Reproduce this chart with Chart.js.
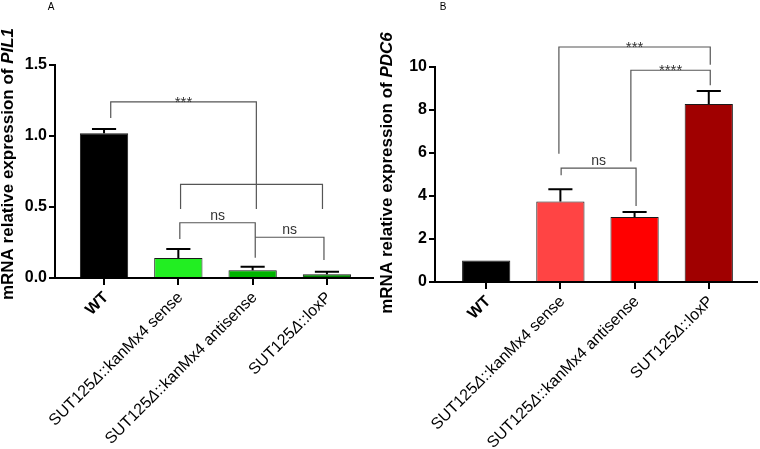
<!DOCTYPE html>
<html>
<head>
<meta charset="utf-8">
<script src="https://cdn.jsdelivr.net/npm/chart.js@4/dist/chart.umd.min.js"></script>
<style>
  body { margin: 0; background: #fff; }
  .panel { position: absolute; top: 0; width: 380px; height: 449px; }
</style>
</head>
<body>
<div class="panel" style="left:0"><canvas id="chartA"></canvas></div>
<div class="panel" style="left:380px"><canvas id="chartB"></canvas></div>
<script>
const strains = ["WT", "SUT125\u0394::kanMx4 sense", "SUT125\u0394::kanMx4 antisense", "SUT125\u0394::loxP"];

const pil1Mean = [1.02, 0.14, 0.055, 0.027];
const pil1Sem = [0.03, 0.065, 0.025, 0.017];
const pil1Ticks = [0, 0.5, 1.0, 1.5];

const pdc6Mean = [1.0, 3.75, 3.02, 8.28];
const pdc6Sem = [0, 0.56, 0.24, 0.6];
const pdc6Ticks = [0, 2, 4, 6, 8, 10];

// significance brackets, in data units (x = strain index, y = expression)
const pil1Brackets = [
  { x1: 0.09, x2: 2.05, y: 1.24, drop1: 1.127, drop2: 0.486, label: "***" },
  { x1: 1.03, x2: 2.94, y: 0.66, drop1: 0.486, drop2: 0.486, label: "" },
  { x1: 1.02, x2: 2.035, y: 0.389, drop1: 0.275, drop2: 0.143, label: "ns" },
  { x1: 2.035, x2: 2.96, y: 0.287, drop1: 0.287, drop2: 0.127, label: "ns" }
];
const pdc6Brackets = [
  { x1: 0.98, x2: 3.02, y: 10.93, drop1: 5.97, drop2: 10.11, label: "***" },
  { x1: 1.95, x2: 3.02, y: 9.85, drop1: 5.61, drop2: 9.15, label: "****" },
  { x1: 1.01, x2: 2.02, y: 5.30, drop1: 4.96, drop2: 3.53, label: "ns" }
];

const FONT = "'Liberation Sans', Arial, sans-serif";

const errorBars = {
  id: "errorBars",
  afterDatasetsDraw(chart, args, opts) {
    const ctx = chart.ctx;
    const y = chart.scales.y;
    const meta = chart.getDatasetMeta(0);
    ctx.save();
    ctx.strokeStyle = "#000";
    ctx.lineWidth = 2;
    meta.data.forEach((bar, i) => {
      const sem = opts.sem[i];
      if (!sem) return;
      const top = y.getPixelForValue(opts.mean[i] + sem);
      const half = bar.width / 4;
      ctx.beginPath();
      ctx.moveTo(bar.x, bar.y);
      ctx.lineTo(bar.x, top);
      ctx.moveTo(bar.x - half, top);
      ctx.lineTo(bar.x + half, top);
      ctx.stroke();
    });
    ctx.restore();
  }
};

const brackets = {
  id: "brackets",
  afterDraw(chart, args, opts) {
    const ctx = chart.ctx;
    const xs = chart.scales.x, ys = chart.scales.y;
    ctx.save();
    ctx.strokeStyle = "#555";
    ctx.lineWidth = 1.2;
    ctx.fillStyle = "#333";
    ctx.textAlign = "center";
    ctx.textBaseline = "alphabetic";
    opts.list.forEach(b => {
      const x1 = xs.getPixelForValue(b.x1), x2 = xs.getPixelForValue(b.x2);
      const y = ys.getPixelForValue(b.y);
      ctx.beginPath();
      ctx.moveTo(x1, ys.getPixelForValue(b.drop1));
      ctx.lineTo(x1, y);
      ctx.lineTo(x2, y);
      ctx.lineTo(x2, ys.getPixelForValue(b.drop2));
      ctx.stroke();
      if (b.label) {
        if (b.label[0] === "*") {
          ctx.font = "15px " + FONT;
          ctx.fillText(b.label, (x1 + x2) / 2, y + 5);
        } else {
          ctx.font = "14px " + FONT;
          ctx.fillText(b.label, (x1 + x2) / 2, y - 3);
        }
      }
    });
    ctx.restore();
  }
};

// strain names under the x axis: upright text, italic delta, WT in bold
const strainLabels = {
  id: "strainLabels",
  afterDraw(chart) {
    const ctx = chart.ctx;
    const xs = chart.scales.x;
    const axisY = chart.chartArea.bottom;
    ctx.save();
    ctx.fillStyle = "#000";
    ctx.textBaseline = "middle";
    ctx.textAlign = "left";
    strains.forEach((name, i) => {
      let parts;
      if (i === 0) {
        parts = [[name, "bold 16px " + FONT]];
      } else {
        const k = name.indexOf("\u0394");
        parts = [
          [name.slice(0, k), "16px " + FONT],
          ["\u0394", "italic 16px " + FONT],
          [name.slice(k + 1), "16px " + FONT]
        ];
      }
      let total = 0;
      parts.forEach(p => { ctx.font = p[1]; p.push(ctx.measureText(p[0]).width); total += p[2]; });
      ctx.save();
      ctx.translate(xs.getPixelForValue(i) + 2, axisY + 17);
      ctx.rotate(-Math.PI / 4);
      let x = -total;
      parts.forEach(p => { ctx.font = p[1]; ctx.fillText(p[0], x, 0); x += p[2]; });
      ctx.restore();
    });
    ctx.restore();
  }
};

const titles = {
  id: "titles",
  afterDraw(chart, args, opts) {
    const ctx = chart.ctx;
    ctx.save();
    ctx.fillStyle = "#000";
    ctx.font = "10px " + FONT;
    ctx.textAlign = "center";
    ctx.textBaseline = "middle";
    ctx.fillText(opts.letter, opts.letterX, 7);

    const plain = "mRNA relative expression of ";
    const fPlain = "bold 17px " + FONT;
    const fGene = "italic bold 17px " + FONT;
    ctx.font = fPlain;
    const w1 = ctx.measureText(plain).width;
    ctx.font = fGene;
    const w2 = ctx.measureText(opts.gene).width;
    ctx.translate(opts.titleX, opts.titleY);
    ctx.rotate(-Math.PI / 2);
    ctx.textAlign = "left";
    const start = -(w1 + w2) / 2;
    ctx.font = fPlain;
    ctx.fillText(plain, start, 0);
    ctx.font = fGene;
    ctx.fillText(opts.gene, start + w1, 0);
    ctx.restore();
  }
};

function makeChart(id, cfg) {
  const ctx = document.getElementById(id).getContext("2d");
  return new Chart(ctx, {
    type: "bar",
    data: {
      datasets: [{
        data: cfg.mean.map((v, i) => ({ x: i, y: v })),
        backgroundColor: cfg.colors,
        borderColor: "#1a1a1a",
        borderWidth: 1,
        barPercentage: 0.65,
        categoryPercentage: 1
      }]
    },
    options: {
      responsive: false,
      animation: false,
      layout: { padding: { top: cfg.top, right: cfg.right, left: 0, bottom: 0 } },
      plugins: {
        legend: { display: false },
        tooltip: { enabled: false },
        errorBars: { mean: cfg.mean, sem: cfg.sem },
        brackets: { list: cfg.brackets },
        titles: cfg.titles
      },
      scales: {
        x: {
          type: "linear",
          offset: false,
          min: cfg.xmin,
          max: cfg.xmax,
          afterBuildTicks: s => { s.ticks = strains.map((_, i) => ({ value: i })); },
          afterFit: s => { s.height = cfg.xHeight; },
          grid: { drawOnChartArea: false, offset: false, color: "#000", lineWidth: 2, tickLength: 7 },
          border: { color: "#000", width: 2 },
          ticks: { display: false }
        },
        y: {
          min: 0,
          max: cfg.ticks[cfg.ticks.length - 1],
          afterBuildTicks: s => { s.ticks = cfg.ticks.map(v => ({ value: v })); },
          afterFit: s => { s.width = 55; },
          grid: { drawOnChartArea: false, color: "#000", lineWidth: 2, tickLength: 6 },
          border: { color: "#000", width: 2 },
          ticks: {
            padding: 2,
            color: "#000",
            font: { family: FONT, size: 16, weight: "bold" },
            callback: v => cfg.decimals ? v.toFixed(cfg.decimals) : String(v)
          }
        }
      }
    },
    plugins: [errorBars, brackets, strainLabels, titles]
  });
}

document.getElementById("chartA").width = 380;
document.getElementById("chartA").height = 449;
document.getElementById("chartB").width = 380;
document.getElementById("chartB").height = 449;

makeChart("chartA", {
  mean: pil1Mean, sem: pil1Sem, ticks: pil1Ticks, decimals: 1,
  brackets: pil1Brackets,
  colors: ["#000000", "#22ee22", "#00b400", "#008000"],
  top: 65, right: 7, xHeight: 171, xmin: -0.66, xmax: 3.62,
  titles: { letter: "A", letterX: 51, gene: "PIL1", titleX: 8, titleY: 164 }
});

makeChart("chartB", {
  mean: pdc6Mean, sem: pdc6Sem, ticks: pdc6Ticks, decimals: 0,
  brackets: pdc6Brackets,
  colors: ["#000000", "#ff4444", "#ff0000", "#a00000"],
  top: 67, right: 3, xHeight: 167, xmin: -0.69, xmax: 3.65,
  titles: { letter: "B", letterX: 63, gene: "PDC6", titleX: 7, titleY: 173 }
});
</script>
</body>
</html>
